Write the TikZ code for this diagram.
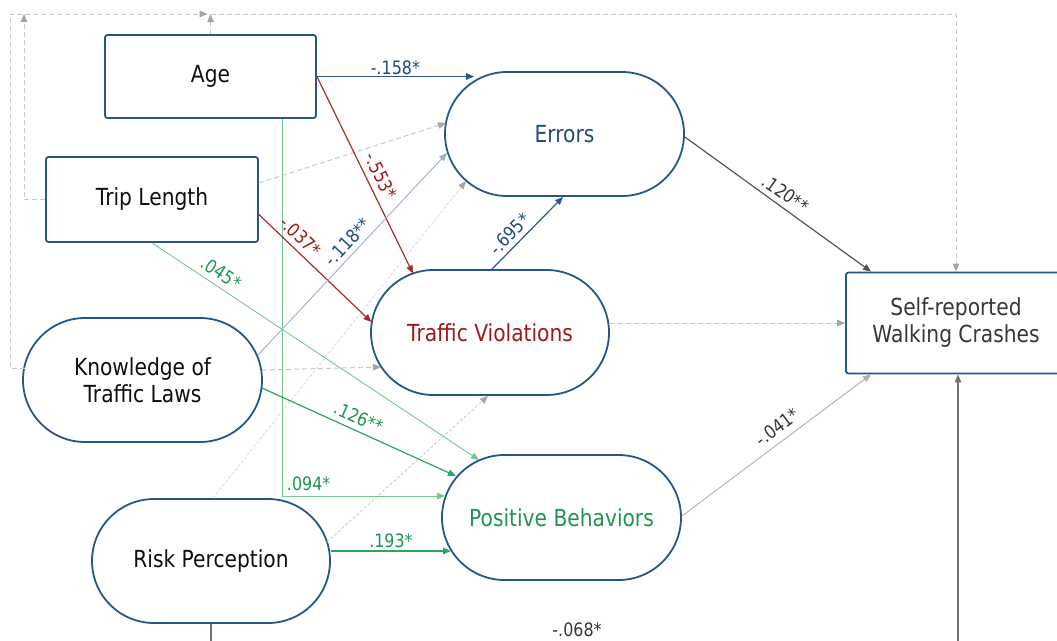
\documentclass[tikz,border=0pt]{standalone}
\usepackage{fontspec}
\setmainfont{DejaVu Sans}[FakeStretch=0.86]
\usetikzlibrary{arrows.meta,calc,shapes.misc}
\definecolor{nodeblue}{RGB}{40,85,138}
\definecolor{errblue}{RGB}{31,78,121}
\definecolor{tvred}{RGB}{160,25,25}
\definecolor{pbgreen}{RGB}{30,150,80}
\definecolor{txtblack}{RGB}{15,15,15}
\definecolor{txtgray}{RGB}{55,55,55}
\definecolor{lnblue}{RGB}{45,85,145}
\definecolor{lnlblue}{RGB}{150,175,210}
\definecolor{lnred}{RGB}{170,45,35}
\definecolor{lngreen}{RGB}{45,165,95}
\definecolor{lnlgreen}{RGB}{115,200,145}
\definecolor{lndgray}{RGB}{85,85,85}
\definecolor{lnlgray}{RGB}{175,175,175}
\definecolor{lnmgray}{RGB}{115,115,115}
\definecolor{nsgray}{RGB}{200,200,200}
\definecolor{nstip}{RGB}{165,165,165}
\newcommand{\nodefont}{\fontsize{23.5}{27}\selectfont}
\newcommand{\labfont}{\fontsize{18.5}{21}\selectfont}
\begin{document}
\begin{tikzpicture}[x=1pt,y=-1pt,
  box/.style={draw=nodeblue, line width=1.8pt, fill=white, rounded corners=2.5pt,
    font=\nodefont, align=center, inner sep=0pt, text=txtblack},
  pill/.style={draw=nodeblue, line width=1.8pt, fill=white, rounded rectangle,
    minimum width=239pt, minimum height=124pt, font=\nodefont, align=center,
    inner sep=0pt, text=txtblack},
  arr/.style={-{Triangle[length=8pt,width=6.5pt]}},
  lab/.style={font=\labfont, inner sep=1.5pt},
  sig/.style={arr, line width=1.2pt},
  sigthin/.style={arr, line width=0.9pt},
  ns/.style={draw=nsgray, line width=1pt, dash pattern=on 5pt off 3pt,
    -{Triangle[length=8pt,width=6.5pt,color=nstip]}},
  nsfine/.style={draw=nsgray, line width=0.8pt, dash pattern=on 3pt off 2pt,
    -{Triangle[length=8pt,width=6.5pt,color=nstip]}},
]
\useasboundingbox (0,0) rectangle (1057,640);

% nodes
\node[box, minimum width=211pt, minimum height=83pt] (age) at (210.5,76.5) {Age};
\node[box, minimum width=212pt, minimum height=85pt] (trip) at (152,199.5) {Trip Length};
\node[pill] (know) at (142.5,380) {Knowledge of\\Traffic Laws};
\node[pill, minimum width=238pt] (risk) at (211,561) {Risk Perception};
\node[pill, text=errblue] (err) at (564.5,134) {Errors};
\node[pill, minimum width=238pt, minimum height=125pt, text=tvred] (tv) at (490,332.5) {Traffic Violations};
\node[pill, minimum height=125pt, text=pbgreen] (pb) at (561.5,517.5) {Positive Behaviors};
\node[box, minimum width=220pt, minimum height=101pt, text=txtgray] (sr) at (956,323) {Self-reported\\Walking Crashes};

% non-significant (dashed) paths
\coordinate (tl) at (10,14);
\coordinate (tj) at (210.5,14);
\draw[ns] ($(know)+(-117.5,-12)$) -| (tl) -- ($(tj)+(-3,0)$);
\draw[ns] (age.north) -- (tj);
\draw[ns] (tj) -| (sr.north);
\draw[ns] (trip.west) -| ($(tl)+(14,0)$);
\draw[ns] ($(trip.east)+(0,-16.5)$) -- ($(err)+(-118.5,-11)$);
\draw[ns] ($(know)+(119.5,-10)$) -- ($(tv)+(-109,34.5)$);
\draw[nsfine, draw=nsgray!70] ($(risk.north)+(2,0)$) -- ($(err)+(-98.5,47)$);
\draw[nsfine] ($(risk)+(116,-19)$) -- ($(tv.south)+(-2,0)$);
\draw[ns] (tv.east |- sr.west) -- (sr.west);

% significant paths
\draw[sig, lnblue] (age.east) -- node[lab, above, text=errblue] {-.158*} ($(err.west |- age.east)+(30,0)$);
\draw[sig, lnred] (age.east) -- node[lab, sloped, above=5pt, pos=0.535, text=tvred] {-.553*} ($(tv)+(-77,-59)$);
\draw[sigthin, lnlgreen] ($(age.south)+(71.5,0)$) |- node[lab, pos=0.5, anchor=south west, xshift=3pt, yshift=3pt, text=pbgreen] {.094*} ($(pb)+(-116.5,-21.5)$);
\draw[sig, lnred] ($(trip.east)+(0,15)$) -- node[lab, sloped, above=4pt, pos=0.29, text=tvred] {-.037*} ($(tv)+(-118.6,-10.5)$);
\draw[sigthin, lnlgreen] (trip.south) -- node[lab, sloped, above=4.5pt, pos=0.19, text=pbgreen] {.045*} ($(pb)+(-82.5,-57.5)$);
\draw[sigthin, lnlblue] ($(know)+(115.5,-25)$) -- node[lab, sloped, above=3pt, pos=0.52, text=errblue] {-.118**} ($(err)+(-117.5,19)$);
\draw[sig, lngreen] ($(know)+(119.5,8)$) -- node[lab, sloped, above=4pt, pos=0.47, text=pbgreen] {.126**} ($(pb)+(-105.5,-41.5)$);
\draw[sig, lngreen] ($(risk.east)+(0,-10)$) -- node[lab, above=1.5pt, text=pbgreen] {.193*} ($(pb)+(-110.5,33.5)$);
\draw[sig, lnblue] ($(tv.north)+(2,0)$) -- node[lab, sloped, above=3pt, pos=0.37, text=errblue] {-.695*} ($(err.south)+(-1.5,0)$);
\draw[sig, lndgray] ($(err.east)+(0,3)$) -- node[lab, sloped, above=4pt, pos=0.5, text=txtgray] {.120**} ($(sr.north)+(-85,0)$);
\draw[sigthin, lnlgray] ($(pb.east)+(0,-1.5)$) -- node[lab, sloped, above=5pt, pos=0.55, text=txtgray] {-.041*} ($(sr.south)+(-85,0)$);
\draw[sig, lnmgray] (risk.south) -- ++(0,25) -| node[lab, pos=0.245, above=10pt, text=txtgray] {-.068*} ($(sr.south)+(2,0)$);
\end{tikzpicture}
\end{document}
